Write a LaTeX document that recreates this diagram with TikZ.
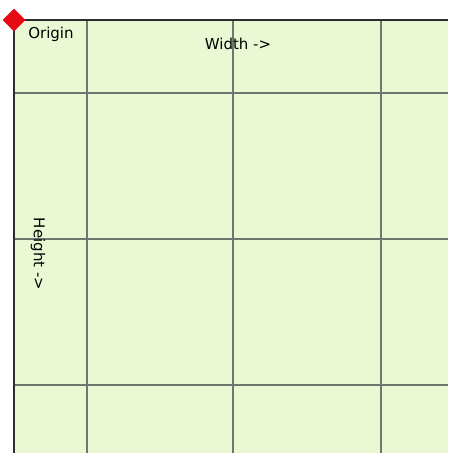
\documentclass[tikz,border=0pt]{standalone}
\usepackage{fontspec}
\setmainfont{DejaVu Sans}
\usetikzlibrary{shapes.geometric}
\definecolor{cellfill}{RGB}{234,249,211}
\definecolor{gridline}{RGB}{110,120,112}
\definecolor{borderline}{RGB}{45,45,45}
\definecolor{marker}{RGB}{230,10,20}
\tikzset{
  lbl/.style={font=\fontsize{15}{17}\selectfont, text=black, inner sep=0pt},
  gridl/.style={draw=gridline, line width=1.4pt},
  borderl/.style={draw=borderline, line width=2.4pt}
}
\begin{document}
\begin{tikzpicture}[x=1pt,y=-1pt]
\useasboundingbox (0,0) rectangle (448,453);
\fill[cellfill] (14,20) rectangle (448,453);
\foreach \v in {87,233,381} \draw[gridl] (\v,20) -- (\v,453);
\foreach \h in {93,239,385} \draw[gridl] (14,\h) -- (448,\h);
\draw[borderl] (14,453) -- (14,20) -- (448,20);
\node[diamond, fill=marker, minimum size=23pt, inner sep=0pt] (origin) at (14,20) {};
\node[lbl] (originlbl) at (51,34) {Origin};
\node[lbl] (widthlbl) at (238,44) {Width ->};
\node[lbl, rotate=-90] (heightlbl) at (38,254) {Height ->};
\end{tikzpicture}
\end{document}
